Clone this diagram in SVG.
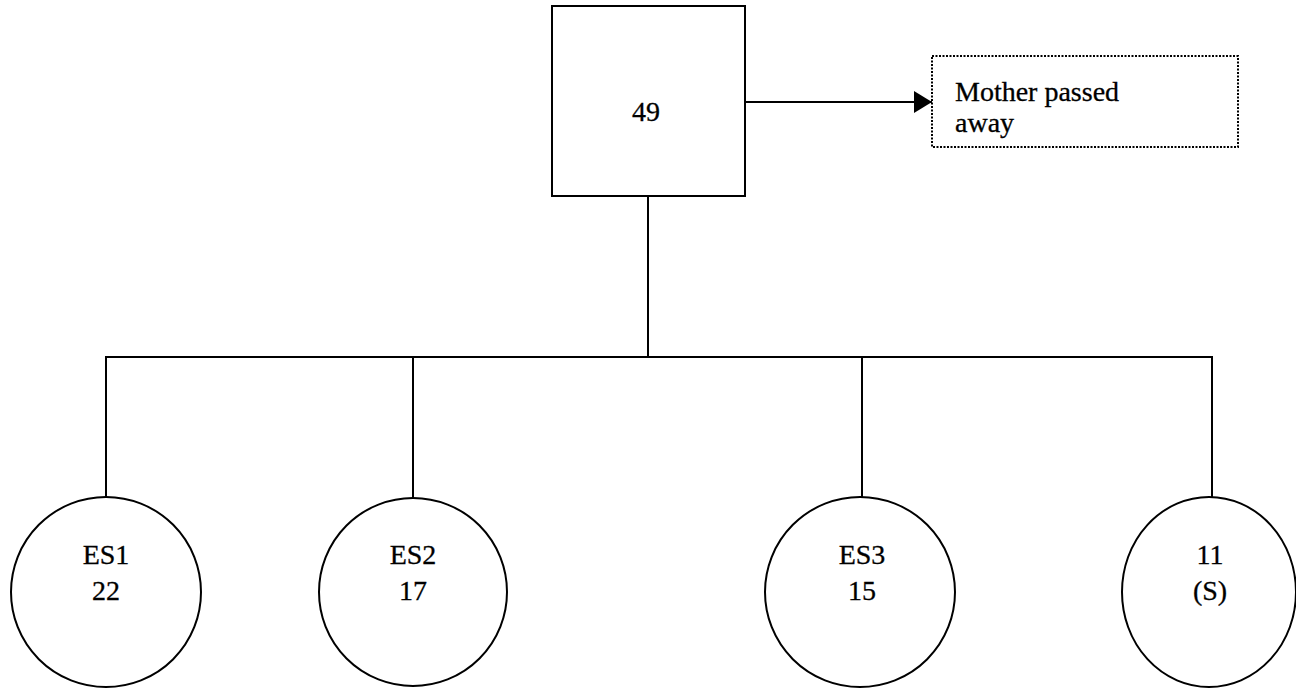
<svg xmlns="http://www.w3.org/2000/svg" width="1296" height="688" viewBox="0 0 1296 688">
  <style>
    .shape { fill: #ffffff; stroke: #000000; stroke-width: 2; }
    .conn { fill: none; stroke: #000000; stroke-width: 2; }
    .dotted { fill: #ffffff; stroke: #000000; stroke-width: 2; stroke-dasharray: 2 1.5; }
    .lbl { font-family: "Liberation Serif", "Times New Roman", serif; font-size: 28px; fill: #000000; stroke: #000000; stroke-width: 0.3; }
  </style>
  <defs>
    <marker id="arrow" markerWidth="18" markerHeight="22" refX="18" refY="11" orient="auto" markerUnits="userSpaceOnUse">
      <path d="M0,0 L18,11 L0,22 Z" fill="#000000"/>
    </marker>
  </defs>
  <rect width="1296" height="688" fill="#ffffff"/>

  <g id="connectors">
    <line class="conn" x1="745" y1="102" x2="932" y2="102" marker-end="url(#arrow)"/>
    <line class="conn" x1="648" y1="196" x2="648" y2="357"/>
    <polyline class="conn" points="106,497 106,357 1212,357 1212,497"/>
    <line class="conn" x1="413" y1="357" x2="413" y2="498"/>
    <line class="conn" x1="862" y1="357" x2="862" y2="497"/>
  </g>

  <g id="node-49">
    <rect class="shape" x="552" y="6" width="193" height="190"/>
    <text class="lbl" x="646" y="121" text-anchor="middle">49</text>
  </g>

  <g id="node-mother">
    <rect class="dotted" x="932" y="56" width="306" height="91"/>
    <text class="lbl" x="955" y="101">Mother passed</text>
    <text class="lbl" x="955" y="132">away</text>
  </g>

  <g id="node-es1">
    <circle class="shape" cx="106" cy="592" r="95"/>
    <text class="lbl" x="106" y="564" text-anchor="middle">ES1</text>
    <text class="lbl" x="106" y="600" text-anchor="middle">22</text>
  </g>

  <g id="node-es2">
    <circle class="shape" cx="413" cy="592" r="94"/>
    <text class="lbl" x="413" y="564" text-anchor="middle">ES2</text>
    <text class="lbl" x="413" y="600" text-anchor="middle">17</text>
  </g>

  <g id="node-es3">
    <circle class="shape" cx="860" cy="592" r="95"/>
    <text class="lbl" x="862" y="564" text-anchor="middle">ES3</text>
    <text class="lbl" x="862" y="600" text-anchor="middle">15</text>
  </g>

  <g id="node-11s">
    <ellipse class="shape" cx="1209" cy="592" rx="87" ry="95"/>
    <text class="lbl" x="1210" y="564" text-anchor="middle">11</text>
    <text class="lbl" x="1210" y="600" text-anchor="middle">(S)</text>
  </g>
</svg>
